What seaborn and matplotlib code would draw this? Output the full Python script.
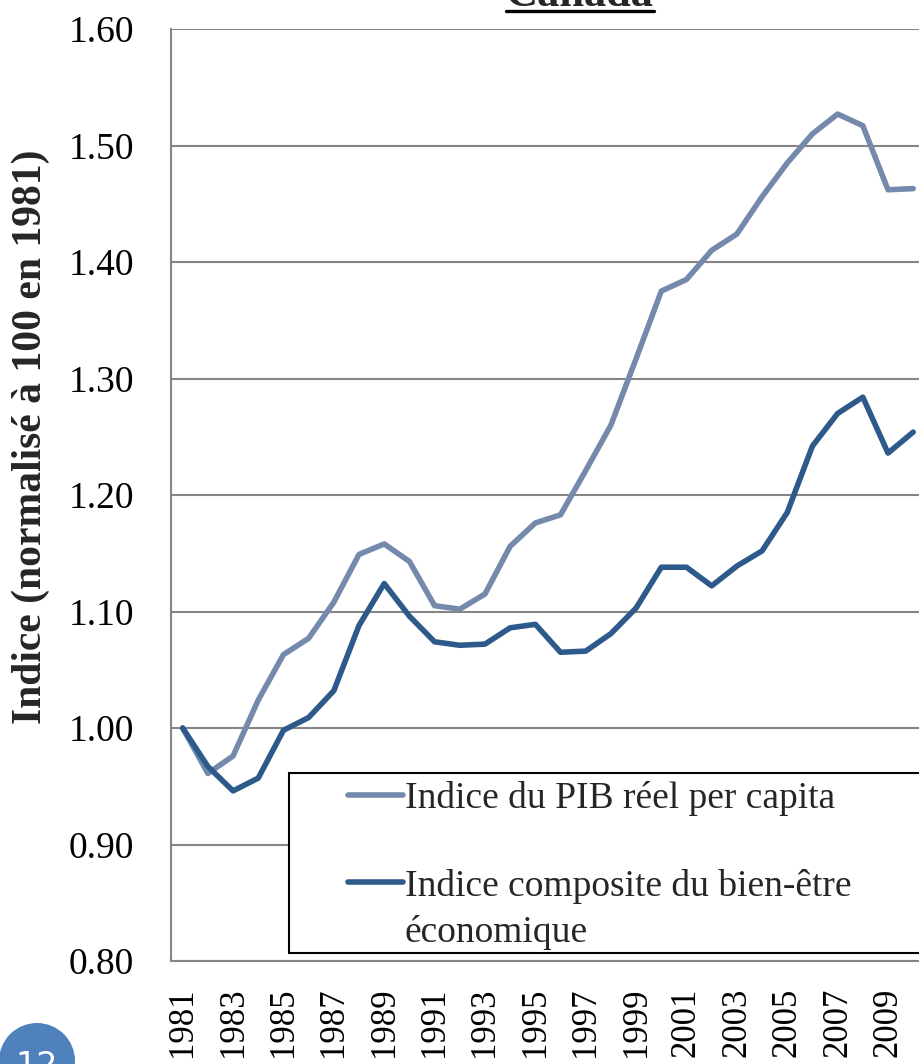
import numpy as np
import pandas as pd
import matplotlib
matplotlib.use("Agg")
import matplotlib.pyplot as plt
import seaborn as sns
from matplotlib.patches import Rectangle, Ellipse
from matplotlib.lines import Line2D

years = list(range(1981, 2011))
pib = [1.000, 0.961, 0.976, 1.024, 1.063, 1.077, 1.108, 1.149, 1.158, 1.143,
       1.105, 1.102, 1.115, 1.156, 1.176, 1.183, 1.221, 1.260, 1.317, 1.375,
       1.385, 1.410, 1.424, 1.456, 1.485, 1.510, 1.527, 1.517, 1.462, 1.463]
ibee = [1.000, 0.967, 0.946, 0.957, 0.998, 1.009, 1.032, 1.088, 1.124, 1.096,
        1.074, 1.071, 1.072, 1.086, 1.089, 1.065, 1.066, 1.081, 1.103, 1.138,
        1.138, 1.122, 1.139, 1.152, 1.185, 1.242, 1.270, 1.284, 1.236, 1.254]
series_names = ["Indice du PIB réel per capita",
                "Indice composite du bien-être économique"]
legend_lines = ["Indice du PIB réel per capita",
                "Indice composite du bien-être", "économique"]
yticks = [0.80, 0.90, 1.00, 1.10, 1.20, 1.30, 1.40, 1.50, 1.60]
xticks = list(range(1981, 2010, 2))
title = "Canada"
ylabel = "Indice (normalisé à 100 en 1981)"
page = "12"

df = pd.DataFrame({
    "Année": years * 2,
    "Indice": pib + ibee,
    "Série": [series_names[0]] * len(years) + [series_names[1]] * len(years),
})

sns.set_theme(style="white")
plt.rcParams['font.family'] = ['Liberation Serif', 'DejaVu Serif']

W, H = 920, 1064
fig = plt.figure(figsize=(W / 100, H / 100), dpi=100)
ax = fig.add_axes([171 / W, (H - 961) / H, (W - 171) / W, (961 - 29) / H])

palette = {series_names[0]: "#7489AB", series_names[1]: "#2D5A8A"}
sns.lineplot(data=df, x="Année", y="Indice", hue="Série", palette=palette,
             linewidth=4.0, ax=ax, legend=False, solid_capstyle="round",
             solid_joinstyle="round")

ax.set_ylim(0.80, 1.60)
ax.set_yticks(yticks)
ax.set_yticklabels([f"{v:.2f}" for v in yticks])
ax.set_xlim(1981 - 0.464, 1981 + 29.27)
ax.set_xticks(xticks)
ax.set_xticklabels([str(y) for y in xticks], rotation=90)
ax.tick_params(axis="both", length=0, colors="black")
ax.tick_params(axis="y", pad=26.5, labelsize=27)
ax.tick_params(axis="x", pad=19, labelsize=25)
ax.yaxis.grid(True, color="#868686", linewidth=1.5)
ax.xaxis.grid(False)
for s in ["top", "right"]:
    ax.spines[s].set_visible(False)
for s in ["left", "bottom"]:
    ax.spines[s].set_color("#868686")
    ax.spines[s].set_linewidth(1.5)
ax.set_xlabel("")
ax.set_ylabel(ylabel, fontsize=30, fontweight="bold")
ax.yaxis.set_label_coords((50 - 171) / (W - 171), (961 - 437) / (961 - 29))

# legend frame
ax_w, ax_h = W - 171, 961 - 29
ax.add_patch(Rectangle(((289 - 171) / ax_w, (961 - 953) / ax_h),
                       (W + 10 - 289) / ax_w, (953 - 773) / ax_h,
                       transform=ax.transAxes, facecolor="white",
                       edgecolor="black", linewidth=1.5, zorder=4, clip_on=False))
handles = [Line2D([0], [0], color=palette[n], linewidth=4.0) for n in series_names]
leg = ax.legend(handles, legend_lines[:2], loc="upper left",
                bbox_to_anchor=((348 - 171) / ax_w, (961 - 781) / ax_h),
                frameon=False, fontsize=27, handlelength=1.47,
                handletextpad=0.05, labelspacing=1.40, borderpad=0,
                borderaxespad=0)
leg.set_zorder(5)

# title with underline
ttl = fig.text(580 / W, 1 - 6 / H, title, ha="center", va="baseline",
               fontsize=32, fontweight="bold")
fig.canvas.draw()
bb = ttl.get_window_extent()
fig.add_artist(Line2D([bb.x0 / W, bb.x1 / W], [(H - 11) / H, (H - 11) / H],
                      transform=fig.transFigure, color="black", linewidth=2.4))

# wrapped second line of the second legend entry
tb = leg.get_texts()[1].get_window_extent()
fig.text(tb.x0 / W, (tb.y0 - 47) / H, legend_lines[2], ha="left", va="bottom",
         fontsize=27, zorder=6)

# page number circle
fig.add_artist(Ellipse((37 / W, 3 / H), 76 / W, 76 / H, transform=fig.transFigure,
                       facecolor="#4F81BD", edgecolor="none"))
fig.text(37 / W, (H - 1050) / H, page, ha="center", va="top", color="white",
         fontsize=24, family="DejaVu Sans")

fig.savefig("out.png", dpi=100)
